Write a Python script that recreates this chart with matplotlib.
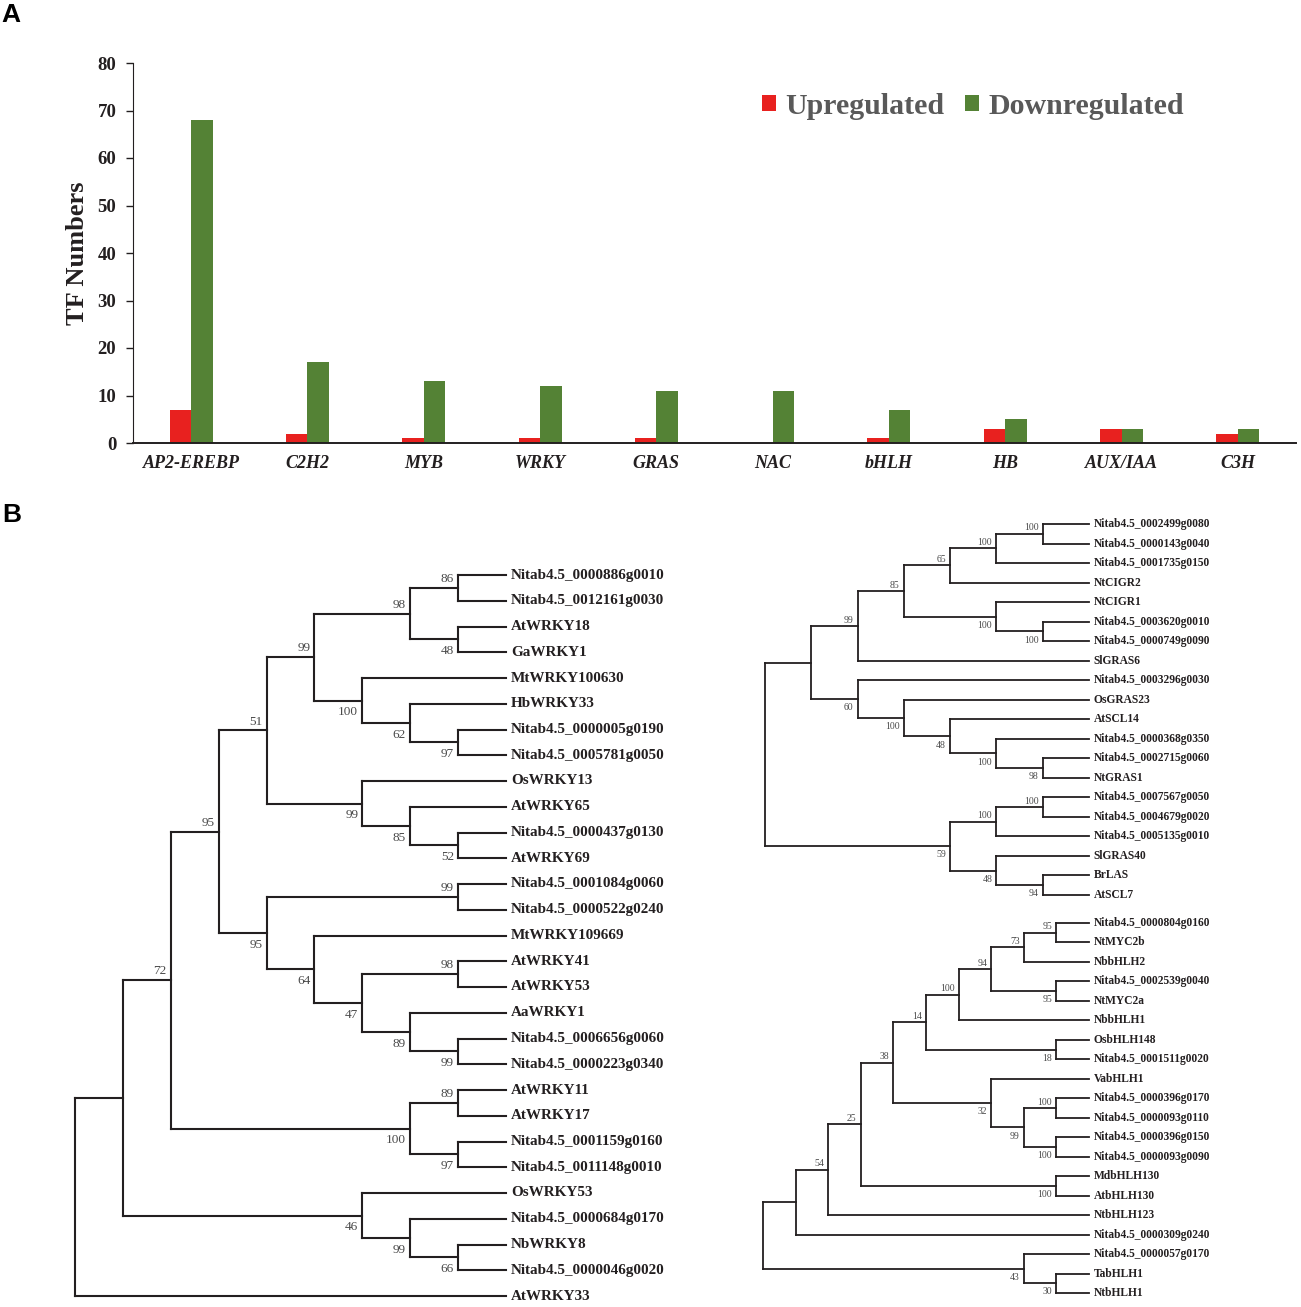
import matplotlib
matplotlib.use("Agg")
import matplotlib.pyplot as plt
import numpy as np

W, H = 1301, 1307

# ---- panel A data ----
families = ["AP2-EREBP", "C2H2", "MYB", "WRKY", "GRAS", "NAC", "bHLH", "HB", "AUX/IAA", "C3H"]
upregulated = [7, 2, 1, 1, 1, 0, 1, 3, 3, 2]
downregulated = [68, 17, 13, 12, 11, 11, 7, 5, 3, 3]

# ---- panel B trees (node labels = bootstrap, branch lengths = cladogram steps) ----
wrky_tree = (
    "((((((((Nitab4.5_0000886g0010,Nitab4.5_0012161g0030)86:1,(AtWRKY18,GaWRKY1)48:1)98:2,"
    "(MtWRKY100630,(HbWRKY33,(Nitab4.5_0000005g0190,Nitab4.5_0005781g0050)97:1)62:1)100:1)99:1,"
    "(OsWRKY13,(AtWRKY65,(Nitab4.5_0000437g0130,AtWRKY69)52:1)85:1)99:2)51:1,"
    "((Nitab4.5_0001084g0060,Nitab4.5_0000522g0240)99:4,(MtWRKY109669,((AtWRKY41,AtWRKY53)98:2,"
    "(AaWRKY1,(Nitab4.5_0006656g0060,Nitab4.5_0000223g0340)99:1)89:1)47:1)64:1)95:1)95:1,"
    "((AtWRKY11,AtWRKY17)89:1,(Nitab4.5_0001159g0160,Nitab4.5_0011148g0010)97:1)100:5)72:1,"
    "(OsWRKY53,(Nitab4.5_0000684g0170,(NbWRKY8,Nitab4.5_0000046g0020)66:1)99:1)46:5):1,AtWRKY33);"
)
gras_tree = (
    "(((((((Nitab4.5_0002499g0080,Nitab4.5_0000143g0040)100:1,Nitab4.5_0001735g0150)100:1,NtCIGR2)65:1,"
    "(NtCIGR1,(Nitab4.5_0003620g0010,Nitab4.5_0000749g0090)100:1)100:2)85:1,SlGRAS6)99:1,"
    "(Nitab4.5_0003296g0030,(OsGRAS23,(AtSCL14,(Nitab4.5_0000368g0350,(Nitab4.5_0002715g0060,NtGRAS1)98:1)100:1)48:1)100:1)60:1):1,"
    "(((Nitab4.5_0007567g0050,Nitab4.5_0004679g0020)100:1,Nitab4.5_0005135g0010)100:1,"
    "(SlGRAS40,(BrLAS,AtSCL7)94:1)48:1)59:4);"
)
bhlh_tree = (
    "((((((((((Nitab4.5_0000804g0160,NtMYC2b)95:1,NbbHLH2)73:1,(Nitab4.5_0002539g0040,NtMYC2a)95:2)94:1,"
    "NbbHLH1)100:1,(OsbHLH148,Nitab4.5_0001511g0020)18:4)14:1,(VabHLH1,((Nitab4.5_0000396g0170,"
    "Nitab4.5_0000093g0110)100:1,(Nitab4.5_0000396g0150,Nitab4.5_0000093g0090)100:1)99:1)32:3)38:1,"
    "(MdbHLH130,AtbHLH130)100:6)25:1,NtbHLH123)54:1,Nitab4.5_0000309g0240):1,"
    "(Nitab4.5_0000057g0170,(TabHLH1,NtbHLH1)30:1)43:8);"
)

plt.rcParams["font.family"] = ["Liberation Serif", "DejaVu Serif"]
INK = "#231F20"


def px_rect(x0, y0, x1, y1):
    return [x0 / W, 1 - y1 / H, (x1 - x0) / W, (y1 - y0) / H]


def parse_newick(s):
    s = s.strip().rstrip(";")
    pos = 0

    def node():
        nonlocal pos
        children = []
        if s[pos] == "(":
            pos += 1
            while True:
                children.append(node())
                if s[pos] == ",":
                    pos += 1
                    continue
                pos += 1  # ')'
                break
        start = pos
        while pos < len(s) and s[pos] not in ",():":
            pos += 1
        name = s[start:pos]
        length = 0.0
        if pos < len(s) and s[pos] == ":":
            pos += 1
            start = pos
            while pos < len(s) and s[pos] not in ",()":
                pos += 1
            length = float(s[start:pos])
        return {"name": name, "length": length, "children": children}

    return node()


def draw_tree(newick, box, leaf_size, boot_size, lw, up_off, down_off):
    root = parse_newick(newick)
    leaves = []

    def place_x(n, x0):
        n["x"] = x0 + n["length"]
        for c in n["children"]:
            place_x(c, n["x"])
        if not n["children"]:
            leaves.append(n)

    place_x(root, 0.0)
    internal_x = []

    def collect(n):
        if n["children"]:
            internal_x.append(n["x"])
            for c in n["children"]:
                collect(c)

    collect(root)
    tip = max(internal_x) + 1
    for i, lf in enumerate(leaves):
        lf["x"] = tip
        lf["y"] = i

    def place_y(n):
        if n["children"]:
            for c in n["children"]:
                place_y(c)
            n["y"] = (n["children"][0]["y"] + n["children"][-1]["y"]) / 2

    place_y(root)

    ax = fig.add_axes(px_rect(*box))
    ax.set_xlim(0, tip)
    ax.set_ylim(len(leaves) - 1, 0)
    ax.axis("off")
    kw = dict(color=INK, lw=lw, clip_on=False, solid_capstyle="projecting")

    def draw(n):
        if not n["children"]:
            ax.annotate(n["name"], (n["x"], n["y"]), xytext=(3.5, 0), textcoords="offset points",
                        ha="left", va="center", fontsize=leaf_size, fontweight="bold", color=INK)
            return
        ys = [c["y"] for c in n["children"]]
        ax.plot([n["x"], n["x"]], [min(ys), max(ys)], **kw)
        for i, c in enumerate(n["children"]):
            ax.plot([n["x"], c["x"]], [c["y"], c["y"]], **kw)
            if c["children"] and c["name"]:
                if i == 0:
                    off, va = up_off, "bottom"
                else:
                    off, va = down_off, "top"
                ax.annotate(c["name"], (c["x"], c["y"]), xytext=(-3, off), textcoords="offset points",
                            ha="right", va=va, fontsize=boot_size, color="#4A4A4A")
            draw(c)

    draw(root)
    return ax


fig = plt.figure(figsize=(W / 100, H / 100), dpi=100)

# ---- A: bar chart ----
ax = fig.add_axes(px_rect(133, 63, 1296, 443))
x = np.arange(len(families))
bw = 0.185
ax.bar(x - bw / 2, upregulated, bw, color="#E8211F", label="Upregulated")
ax.bar(x + bw / 2, downregulated, bw, color="#548235", label="Downregulated")
ax.set_xlim(-0.5, len(families) - 0.5)
ax.set_ylim(0, 80)
ax.set_yticks(range(0, 81, 10))
ax.set_xticks(x)
ax.set_xticklabels(families, fontstyle="italic", fontweight="bold", fontsize=13)
for lab in ax.get_yticklabels():
    lab.set_fontweight("bold")
    lab.set_fontsize(13.5)
ax.tick_params(axis="y", direction="out", length=5, width=1, pad=7, colors=INK)
ax.tick_params(axis="x", length=0, pad=9, colors=INK)
ax.spines["top"].set_visible(False)
ax.spines["right"].set_visible(False)
ax.spines["left"].set_color(INK)
ax.spines["bottom"].set_color(INK)
ax.spines["bottom"].set_linewidth(1.4)
ax.set_ylabel("TF Numbers", fontsize=19, fontweight="bold", color=INK)
ax.yaxis.set_label_coords(-0.038, 0.5)
leg = ax.legend(loc="center left", bbox_to_anchor=(0.541, 0.886), ncol=2, frameon=False,
                prop={"size": 21.5, "weight": "bold"}, handlelength=0.47, handleheight=0.47,
                handletextpad=0.3, columnspacing=0.7, borderpad=0, borderaxespad=0)
for t in leg.get_texts():
    t.set_color("#595959")

# ---- B: trees ----
draw_tree(wrky_tree, (75, 575, 506, 1296), 10.9, 9.5, 1.5, 2, -4)
draw_tree(gras_tree, (765, 524, 1089, 895), 8.3, 7, 1.3, 1, -3)
draw_tree(bhlh_tree, (763, 923, 1089, 1293), 8.3, 7, 1.3, 1, -3)

fig.text(1 / W, 1 - 15 / H, "A", fontsize=19, fontweight="bold", family="Liberation Sans",
         va="center", ha="left")
fig.text(2 / W, 1 - 515 / H, "B", fontsize=19, fontweight="bold", family="Liberation Sans",
         va="center", ha="left")

fig.savefig("out.png", dpi=100)
